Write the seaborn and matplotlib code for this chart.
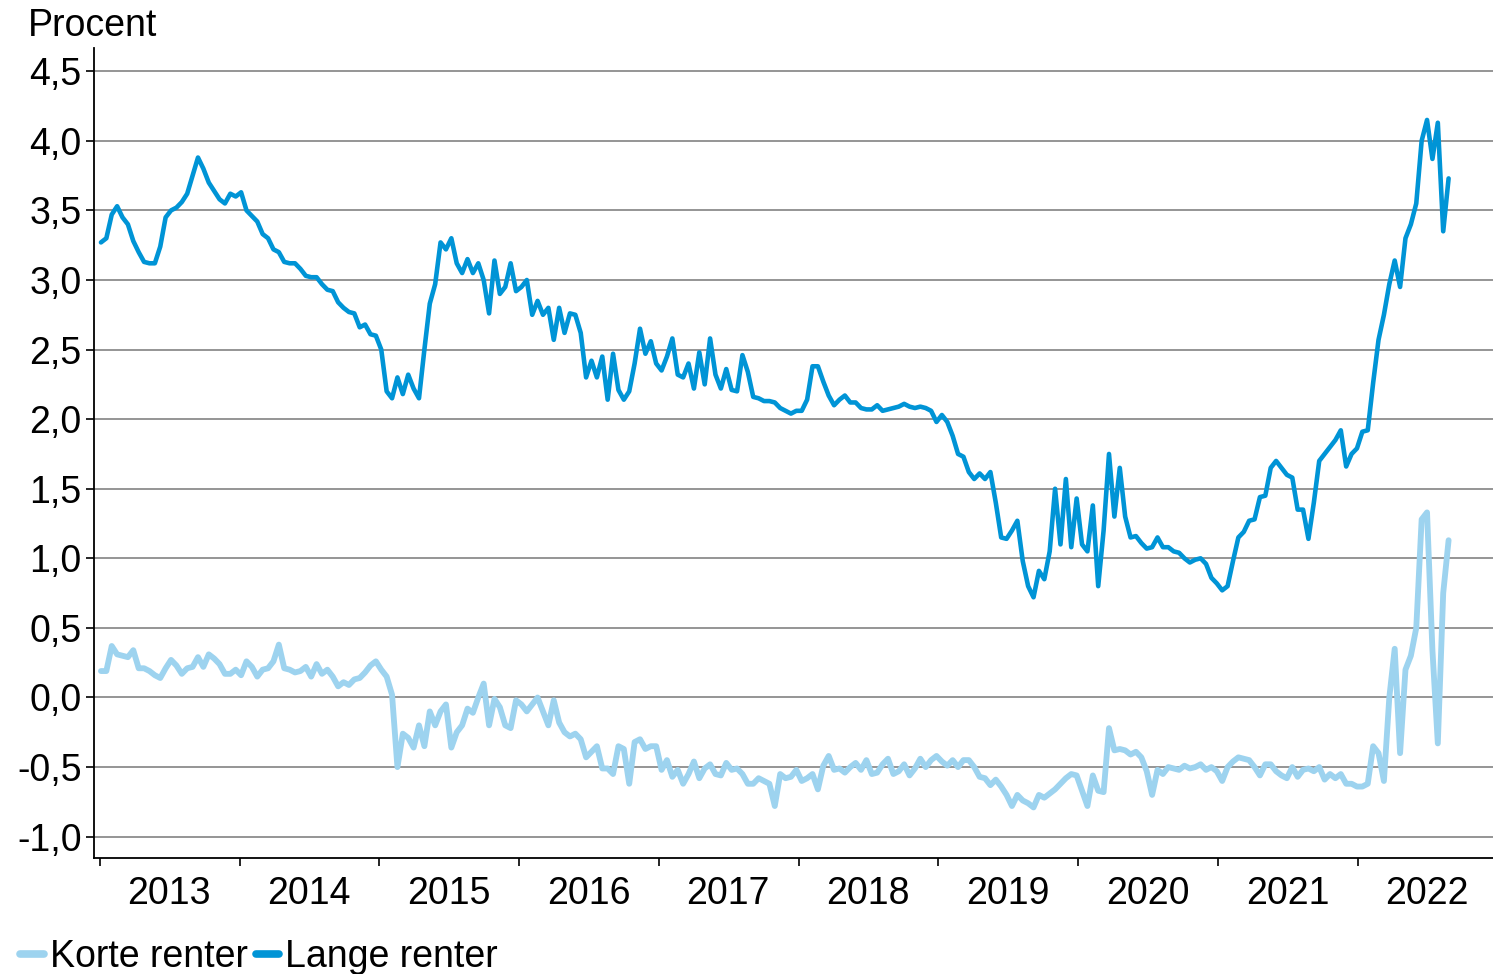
import numpy as np
import pandas as pd
import seaborn as sns
import matplotlib.pyplot as plt
import matplotlib.dates as mdates
from matplotlib.ticker import FuncFormatter, NullFormatter

# Data, hver anden uge (jan 2013 - aug 2022)
lange = [
    3.27, 3.30, 3.47, 3.53, 3.45, 3.40, 3.28, 3.20, 3.13, 3.12, 3.12, 3.24, 3.45, 3.50, 3.52, 3.56, 3.62, 3.75, 3.88, 3.80, 3.70, 3.64, 3.58, 3.55, 3.62, 3.60,  # 2013
    3.63, 3.50, 3.46, 3.42, 3.33, 3.30, 3.22, 3.20, 3.13, 3.12, 3.12, 3.08, 3.03, 3.02, 3.02, 2.97, 2.93, 2.92, 2.84, 2.80, 2.77, 2.76, 2.66, 2.68, 2.61, 2.60,  # 2014
    2.50, 2.20, 2.15, 2.30, 2.18, 2.32, 2.22, 2.15, 2.50, 2.83, 2.97, 3.27, 3.22, 3.30, 3.12, 3.05, 3.15, 3.05, 3.12, 3.00, 2.76, 3.14, 2.90, 2.95, 3.12, 2.92,  # 2015
    2.95, 3.00, 2.75, 2.85, 2.75, 2.80, 2.57, 2.80, 2.62, 2.76, 2.75, 2.62, 2.30, 2.42, 2.30, 2.45, 2.14, 2.47, 2.21, 2.14, 2.20, 2.40, 2.65, 2.47, 2.56, 2.40,  # 2016
    2.35, 2.45, 2.58, 2.32, 2.30, 2.40, 2.22, 2.48, 2.25, 2.58, 2.32, 2.22, 2.36, 2.21, 2.20, 2.46, 2.34, 2.16, 2.15, 2.13, 2.13, 2.12, 2.08, 2.06, 2.04, 2.06,  # 2017
    2.06, 2.14, 2.38, 2.38, 2.27, 2.17, 2.10, 2.14, 2.17, 2.12, 2.12, 2.08, 2.07, 2.07, 2.10, 2.06, 2.07, 2.08, 2.09, 2.11, 2.09, 2.08, 2.09, 2.08, 2.06, 1.98,  # 2018
    2.03, 1.98, 1.88, 1.75, 1.73, 1.62, 1.57, 1.61, 1.57, 1.62, 1.40, 1.15, 1.14, 1.20, 1.27, 0.98, 0.80, 0.72, 0.91, 0.85, 1.05, 1.50, 1.10, 1.57, 1.08, 1.43,  # 2019
    1.10, 1.05, 1.38, 0.80, 1.20, 1.75, 1.30, 1.65, 1.30, 1.15, 1.16, 1.11, 1.07, 1.08, 1.15, 1.08, 1.08, 1.05, 1.04, 1.00, 0.97, 0.99, 1.00, 0.96, 0.86, 0.82,  # 2020
    0.77, 0.80, 0.98, 1.15, 1.19, 1.27, 1.28, 1.44, 1.45, 1.65, 1.70, 1.65, 1.60, 1.58, 1.35, 1.35, 1.14, 1.40, 1.70, 1.75, 1.80, 1.85, 1.92, 1.66, 1.75, 1.79,  # 2021
    1.91, 1.92, 2.26, 2.57, 2.75, 2.97, 3.14, 2.95, 3.30, 3.40, 3.55, 4.00, 4.15, 3.87, 4.13, 3.35, 3.73,  # 2022
]

korte = [
    0.19, 0.19, 0.37, 0.31, 0.30, 0.29, 0.34, 0.21, 0.21, 0.19, 0.16, 0.14, 0.21, 0.27, 0.23, 0.17, 0.21, 0.22, 0.29, 0.22, 0.31, 0.28, 0.24, 0.17, 0.17, 0.20,  # 2013
    0.16, 0.26, 0.22, 0.15, 0.20, 0.21, 0.26, 0.38, 0.21, 0.20, 0.18, 0.19, 0.22, 0.15, 0.24, 0.17, 0.20, 0.15, 0.08, 0.11, 0.09, 0.13, 0.14, 0.18, 0.23, 0.26,  # 2014
    0.20, 0.15, 0.02, -0.50, -0.26, -0.29, -0.36, -0.20, -0.35, -0.10, -0.20, -0.10, -0.05, -0.36, -0.25, -0.20, -0.08, -0.11, 0.00, 0.10, -0.20, -0.01, -0.07, -0.20, -0.22, -0.02,  # 2015
    -0.05, -0.10, -0.05, 0.00, -0.10, -0.20, -0.02, -0.18, -0.25, -0.28, -0.26, -0.30, -0.43, -0.39, -0.35, -0.51, -0.51, -0.55, -0.35, -0.37, -0.62, -0.32, -0.30, -0.37, -0.35, -0.35,  # 2016
    -0.52, -0.45, -0.57, -0.52, -0.62, -0.55, -0.46, -0.58, -0.51, -0.48, -0.55, -0.56, -0.47, -0.52, -0.51, -0.55, -0.62, -0.62, -0.58, -0.60, -0.62, -0.78, -0.55, -0.58, -0.57, -0.52,  # 2017
    -0.60, -0.58, -0.55, -0.66, -0.49, -0.42, -0.52, -0.51, -0.54, -0.50, -0.47, -0.52, -0.45, -0.55, -0.54, -0.48, -0.44, -0.55, -0.53, -0.48, -0.56, -0.51, -0.44, -0.50, -0.45, -0.42,  # 2018
    -0.46, -0.49, -0.45, -0.50, -0.45, -0.45, -0.50, -0.57, -0.58, -0.63, -0.59, -0.64, -0.70, -0.78, -0.70, -0.74, -0.76, -0.79, -0.70, -0.72, -0.69, -0.66, -0.62, -0.58, -0.55, -0.56,  # 2019
    -0.67, -0.78, -0.56, -0.67, -0.68, -0.22, -0.38, -0.37, -0.38, -0.41, -0.39, -0.43, -0.53, -0.70, -0.52, -0.55, -0.50, -0.51, -0.52, -0.49, -0.51, -0.50, -0.48, -0.52, -0.50, -0.53,  # 2020
    -0.60, -0.50, -0.46, -0.43, -0.44, -0.45, -0.50, -0.56, -0.48, -0.48, -0.53, -0.56, -0.58, -0.50, -0.57, -0.52, -0.51, -0.53, -0.50, -0.59, -0.55, -0.58, -0.55, -0.62, -0.62, -0.64,  # 2021
    -0.64, -0.62, -0.35, -0.40, -0.60, 0.00, 0.35, -0.40, 0.20, 0.30, 0.50, 1.28, 1.33, 0.34, -0.33, 0.75, 1.13,  # 2022
]

serier = ["Korte renter", "Lange renter"]
farver = ["#9dd3ef", "#0094d6"]
y_ticks = [-1.0, -0.5, 0.0, 0.5, 1.0, 1.5, 2.0, 2.5, 3.0, 3.5, 4.0, 4.5]

datoer = pd.date_range("2013-01-04", "2022-08-26", periods=len(lange))
df = pd.DataFrame({
    "Dato": list(datoer) * 2,
    "Rente": korte + lange,
    "Serie": [serier[0]] * len(korte) + [serier[1]] * len(lange),
})

sns.set_theme(style="white")
plt.rcParams["font.family"] = ["Liberation Sans", "DejaVu Sans"]
plt.rcParams["text.color"] = "black"
plt.rcParams["xtick.color"] = "black"
plt.rcParams["ytick.color"] = "black"
fs = 27

fig = plt.figure(figsize=(14.93, 9.74), dpi=100)
ax = fig.add_axes([0.063, 0.119, 0.937, 0.832])

sns.lineplot(data=df, x="Dato", y="Rente", hue="Serie", hue_order=serier,
             palette=dict(zip(serier, farver)), estimator=None,
             linewidth=3.3, ax=ax)
# den lyse linje lidt tykkere, som i originalen
ax.lines[0].set_linewidth(4.2)

handles, labels = ax.get_legend_handles_labels()
ax.get_legend().remove()

# akser
ax.set_ylim(-1.154, 4.669)
ax.set_xlim(pd.Timestamp("2012-12-17"), pd.Timestamp("2022-12-20"))
ax.set_yticks(y_ticks)
ax.yaxis.set_major_formatter(FuncFormatter(lambda v, p: f"{v:.1f}".replace(".", ",")))
ax.xaxis.set_major_locator(mdates.YearLocator())
ax.xaxis.set_major_formatter(NullFormatter())
ax.xaxis.set_minor_locator(mdates.MonthLocator(bymonth=7, bymonthday=1))
ax.xaxis.set_minor_formatter(mdates.DateFormatter("%Y"))
ax.tick_params(axis="x", which="major", direction="out", length=5.5, width=1.2, color="black", bottom=True)
ax.tick_params(axis="x", which="minor", length=0, labelsize=fs, pad=13, labelcolor="black")
ax.tick_params(axis="y", direction="out", length=6, width=1.2, color="black", left=True,
               labelsize=fs, pad=3, labelcolor="black")
ax.set_xlabel("")
ax.set_ylabel("")

ax.yaxis.grid(True, color="#8c8c8c", linewidth=1.3)
ax.xaxis.grid(False)
ax.set_axisbelow(True)
for s in ["top", "right"]:
    ax.spines[s].set_visible(False)
for s in ["left", "bottom"]:
    ax.spines[s].set_color("black")
    ax.spines[s].set_linewidth(1.3)

fig.text(28 / 1493, 1 - 36 / 974, "Procent", fontsize=fs, va="baseline", ha="left", color="black")

leg = fig.legend(handles, labels, loc="center left", bbox_to_anchor=(20 / 1493, 1 - 957 / 974),
                 ncol=2, frameon=False, fontsize=fs, handlelength=0.63, handletextpad=0.16,
                 columnspacing=0.22, borderpad=0, borderaxespad=0)
for line in leg.get_lines():
    line.set_linewidth(5.5)
for t in leg.get_texts():
    t.set_color("black")

fig.savefig("out.png", dpi=100)
plt.close(fig)
